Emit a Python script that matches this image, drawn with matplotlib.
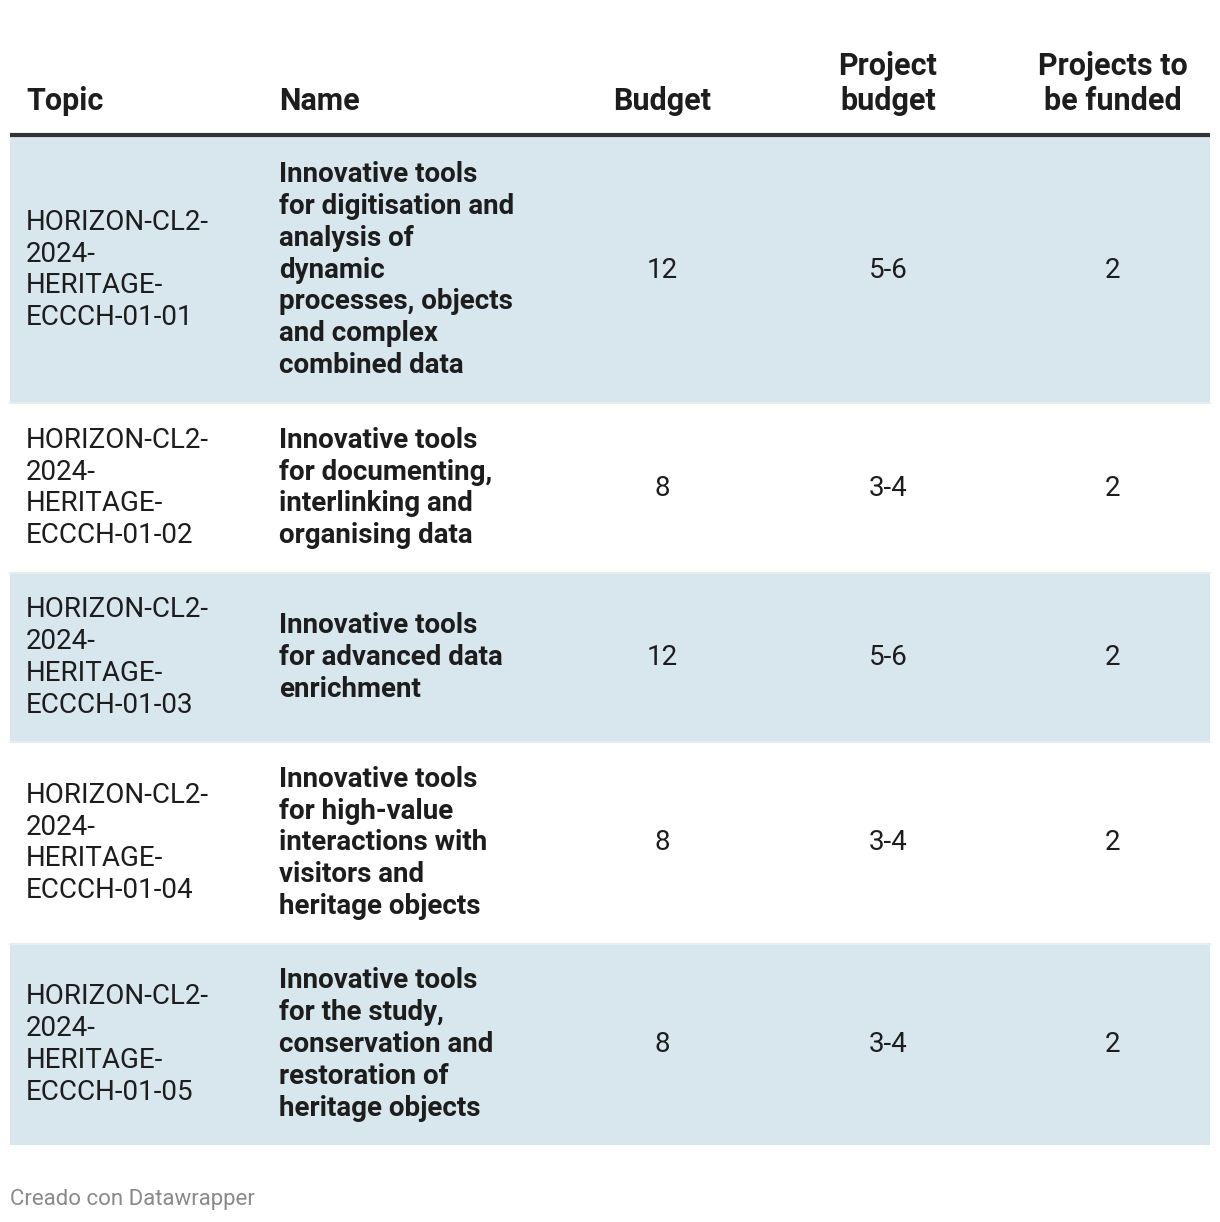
import matplotlib.pyplot as plt

plt.rcParams["font.family"] = ["Roboto", "DejaVu Sans"]

headers = ["Topic", "Name", "Budget", "Project\nbudget", "Projects to\nbe funded"]
topics = [
    "HORIZON-CL2-\n2024-\nHERITAGE-\nECCCH-01-01",
    "HORIZON-CL2-\n2024-\nHERITAGE-\nECCCH-01-02",
    "HORIZON-CL2-\n2024-\nHERITAGE-\nECCCH-01-03",
    "HORIZON-CL2-\n2024-\nHERITAGE-\nECCCH-01-04",
    "HORIZON-CL2-\n2024-\nHERITAGE-\nECCCH-01-05",
]
names = [
    "Innovative tools\nfor digitisation and\nanalysis of\ndynamic\nprocesses, objects\nand complex\ncombined data",
    "Innovative tools\nfor documenting,\ninterlinking and\norganising data",
    "Innovative tools\nfor advanced data\nenrichment",
    "Innovative tools\nfor high-value\ninteractions with\nvisitors and\nheritage objects",
    "Innovative tools\nfor the study,\nconservation and\nrestoration of\nheritage objects",
]
budget = ["12", "8", "12", "8", "8"]
project_budget = ["5-6", "3-4", "5-6", "3-4", "3-4"]
to_fund = ["2", "2", "2", "2", "2"]

# layout in pixels
W, H = 1220, 1222
row_edges = [137, 403, 573, 742, 944, 1145]
col_x = [26, 279, 662, 888, 1113]
col_ha = ["left", "left", "center", "center", "center"]
txt = "#1d1d1d"
fs = 20
ls = 1.235

fig = plt.figure(figsize=(W / 100, H / 100), dpi=100)
ax = fig.add_axes([0, 0, 1, 1])
ax.set_xlim(0, W)
ax.set_ylim(H, 0)
ax.axis("off")

# header
for x, ha, h in zip(col_x, col_ha, headers):
    ax.text(x, 110, h, ha=ha, va="baseline", fontsize=22, fontweight="bold",
            color=txt, linespacing=1.2)
ax.plot([10, 1210], [135, 135], color="#333333", lw=3, solid_capstyle="butt")

# rows
for i in range(len(topics)):
    top, bot = row_edges[i], row_edges[i + 1]
    if i % 2 == 0:
        ax.fill_between([10, 1210], top, bot, color="#d8e6ee", lw=0)
    if i > 0:
        ax.plot([10, 1210], [top, top], color="#e6edf1", lw=1.5)
    yc = (top + bot) / 2
    ax.text(col_x[0], yc, topics[i], ha="left", va="center", fontsize=fs,
            color=txt, linespacing=ls)
    ax.text(col_x[1], yc, names[i], ha="left", va="center", fontsize=fs,
            fontweight="bold", color=txt, linespacing=ls)
    for j, col in enumerate([budget, project_budget, to_fund]):
        ax.text(col_x[j + 2], yc, col[i], ha="center", va="center",
                fontsize=fs, color=txt)

ax.text(10, 1199, "Creado con Datawrapper", ha="left", va="center",
        fontsize=16, color="#8a8a8a")

fig.savefig("out.png", dpi=100)
